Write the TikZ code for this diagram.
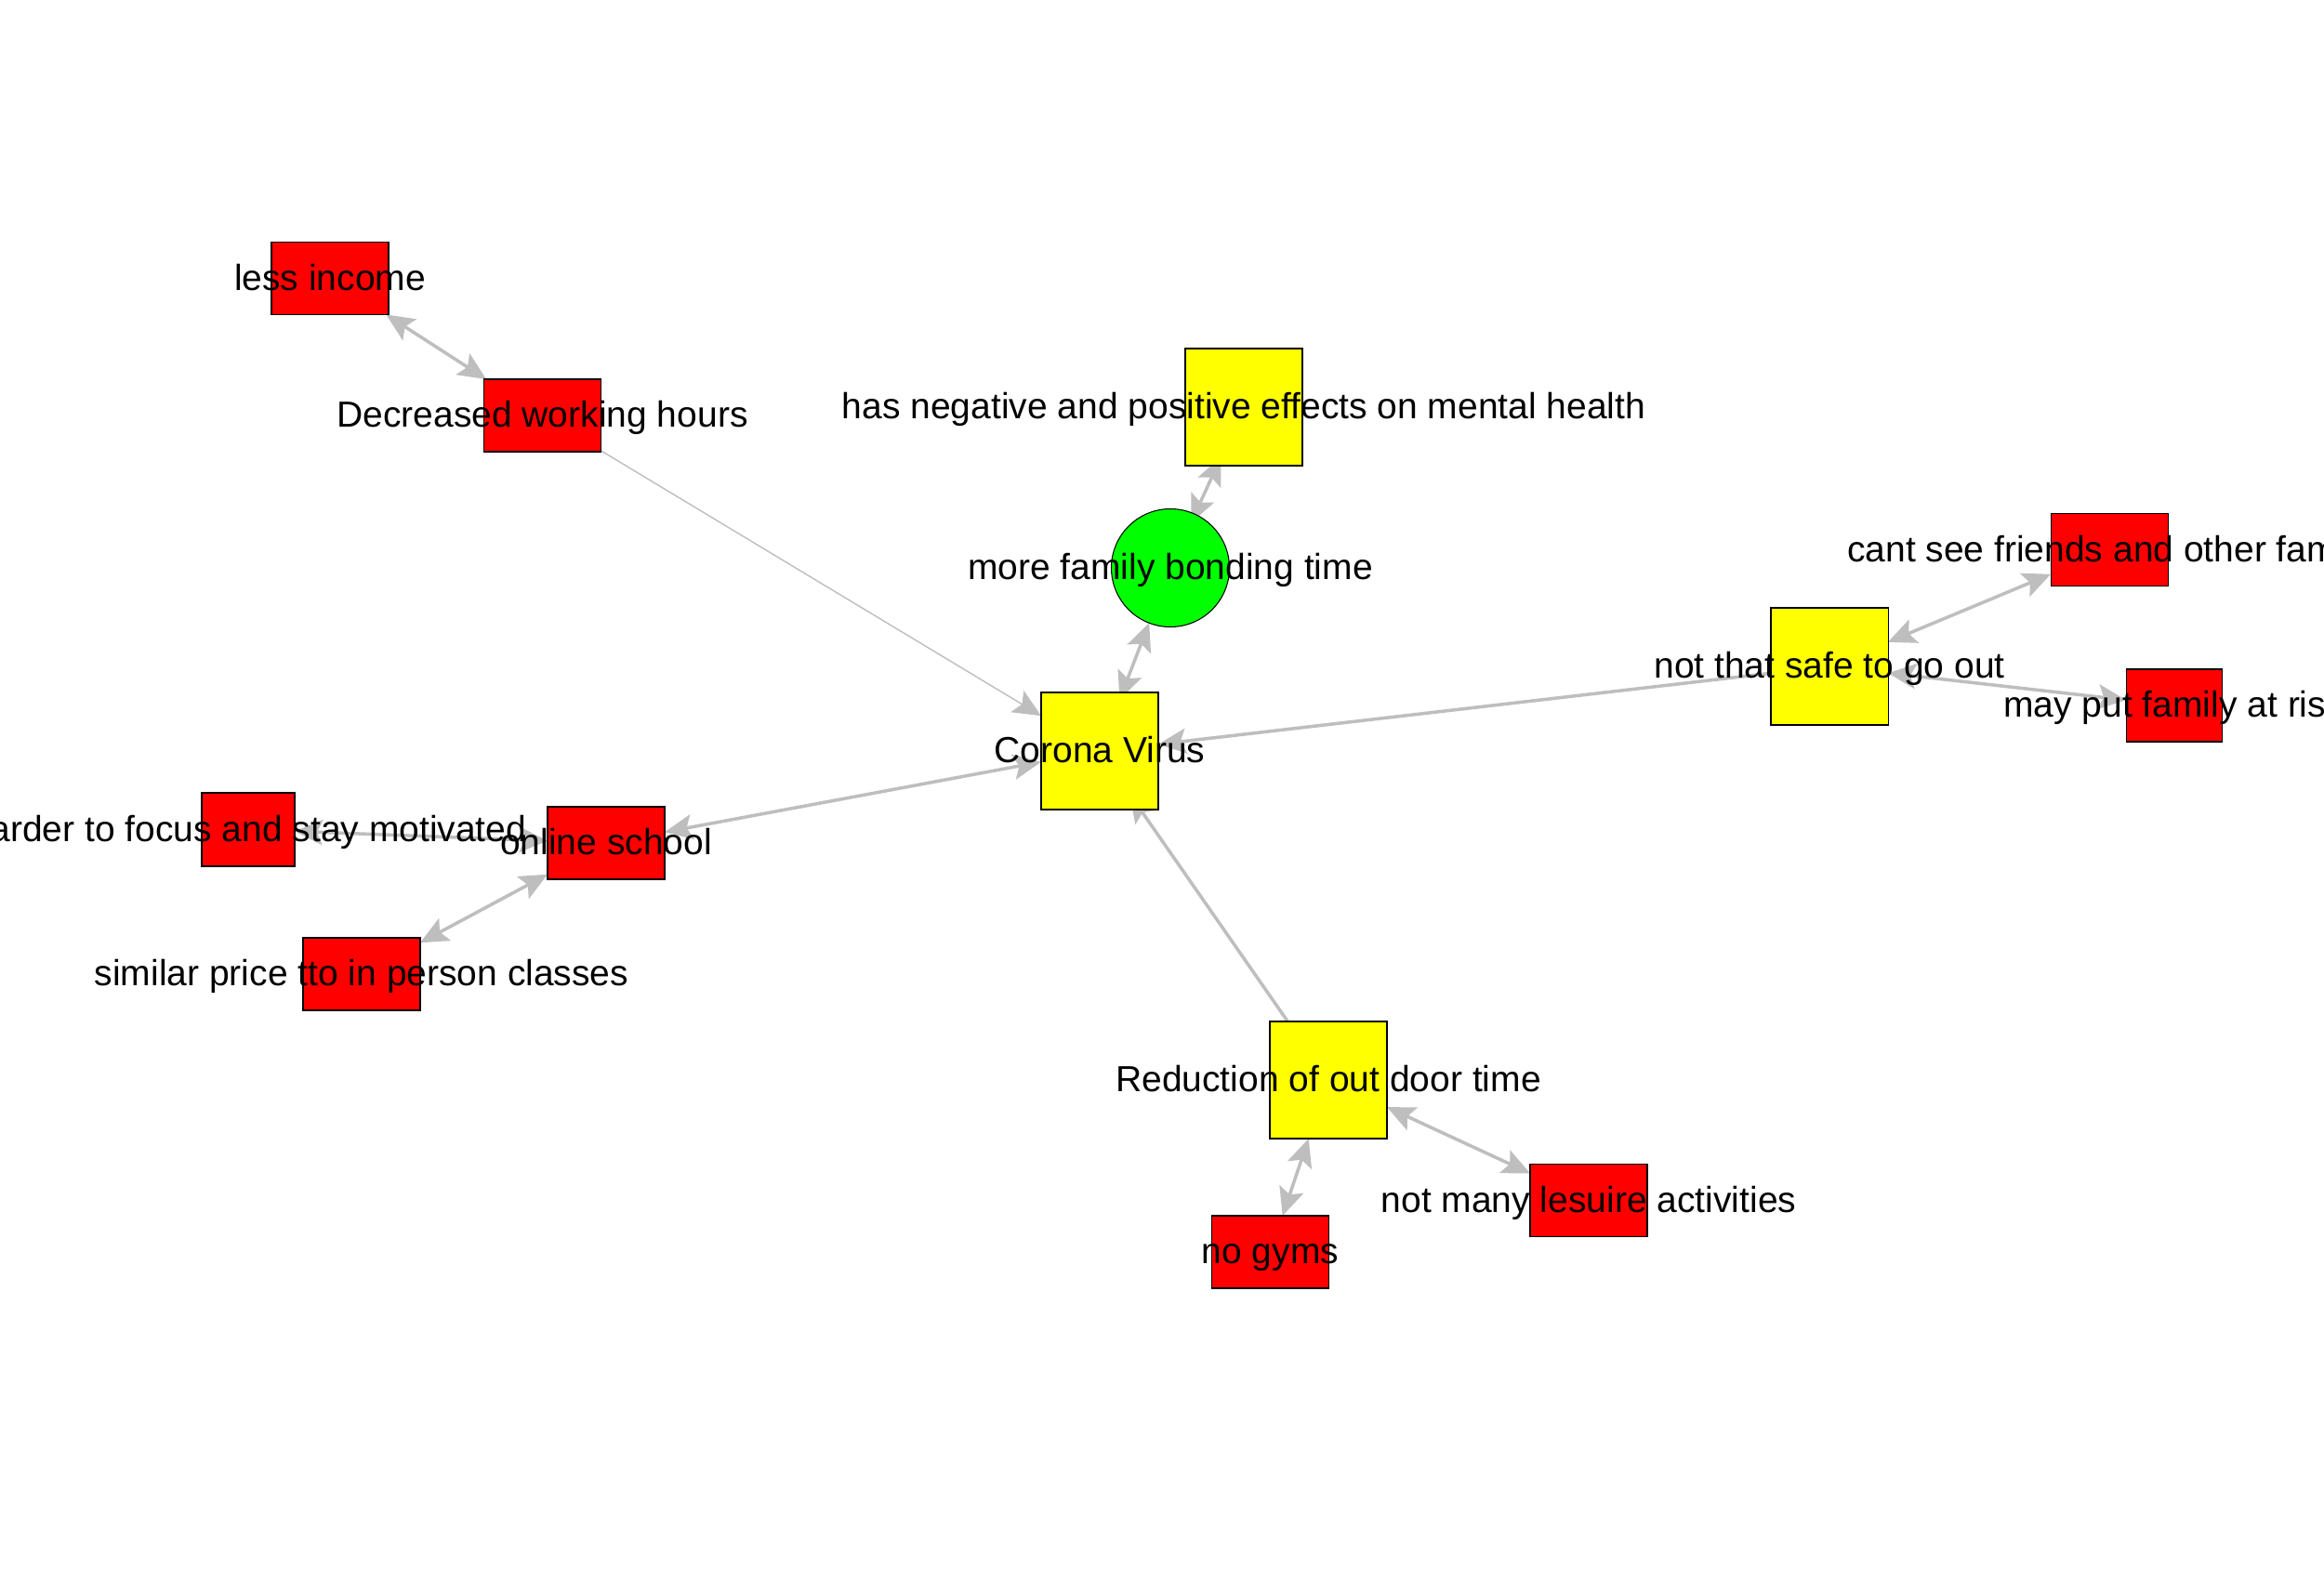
\documentclass[tikz,border=0pt]{standalone}
\usepackage{fontspec}
\setmainfont{Liberation Sans}
\usetikzlibrary{arrows.meta,backgrounds}
\definecolor{edgegray}{RGB}{190,190,190}
\definecolor{boxred}{RGB}{255,0,0}
\definecolor{boxyellow}{RGB}{255,255,0}
\definecolor{boxgreen}{RGB}{0,255,0}
\tikzset{
  box/.style={draw=black, line width=0.3pt, inner sep=0pt, outer sep=0pt},
  redbox/.style={box, fill=boxred, minimum width=1.26cm, minimum height=0.78cm},
  yelbox/.style={box, fill=boxyellow, minimum width=1.26cm, minimum height=1.26cm},
  grncirc/.style={box, circle, fill=boxgreen, minimum size=1.27cm},
  lbl/.style={font=\fontsize{11.1}{13}\selectfont, text height=0.716em, text depth=0pt, inner sep=0pt},
  conn/.style={draw=edgegray, line width=1pt},
  thinconn/.style={draw=edgegray, line width=0.4pt},
  tip/.tip={Stealth[length=0.3cm,width=0.27cm,inset=0.06cm]},
  onearr/.style={-tip},
  twoarr/.style={tip-tip},
}
\begin{document}
\begin{tikzpicture}
\useasboundingbox (0,0) rectangle (25,-17);
\clip (0,0) rectangle (25,-17);

\node[redbox, label={[lbl]center:less income}] (less) at (3.55,-2.995) {};
\node[redbox, label={[lbl]center:Decreased working hours}] (dec) at (5.835,-4.47) {};
\node[yelbox, label={[lbl]center:has negative and positive effects on mental health}] (neg) at (13.38,-4.38) {};
\node[grncirc, label={[lbl]center:more family bonding time}] (fam) at (12.59,-6.11) {};
\node[yelbox, label={[lbl]center:Corona Virus}] (cor) at (11.83,-8.08) {};
\node[yelbox, label={[lbl]center:not that safe to go out}] (safe) at (19.68,-7.17) {};
\node[redbox, label={[lbl]center:cant see friends and other family}] (cant) at (22.69,-5.915) {};
\node[redbox, minimum width=1.03cm, label={[lbl]center:may put family at risk}] (risk) at (23.385,-7.59) {};
\node[redbox, minimum width=1.0cm, minimum height=0.79cm, label={[lbl]center:harder to focus and stay motivated}] (focus) at (2.67,-8.925) {};
\node[redbox, label={[lbl]center:online school}] (online) at (6.52,-9.07) {};
\node[redbox, label={[lbl]center:similar price tto in person classes}] (price) at (3.89,-10.48) {};
\node[yelbox, label={[lbl]center:Reduction of out door time}] (redu) at (14.29,-11.62) {};
\node[redbox, label={[lbl]center:not many lesuire activities}] (leis) at (17.09,-12.915) {};
\node[redbox, label={[lbl]center:no gyms}] (gyms) at (13.665,-13.47) {};

\begin{scope}[on background layer]
\fill[white] (0,0) rectangle (25,-17);
\draw[conn, twoarr] (less) -- (dec);
\draw[thinconn, onearr] (dec) -- (cor);
\draw[conn, twoarr, shorten <=-0.1cm, shorten >=-0.1cm] (neg) -- (fam);
\draw[conn, twoarr, shorten >=-0.08cm] (fam) -- (cor);
\draw[conn, onearr] (safe) -- (cor);
\draw[conn, twoarr] (safe) -- (cant);
\draw[conn, twoarr] (safe) -- (risk);
\draw[conn, twoarr] (online) -- (cor);
\draw[conn, twoarr] (online) -- (focus);
\draw[conn, twoarr] (online) -- (price);
\draw[conn, onearr, shorten >=-0.2cm] (redu) -- (cor);
\draw[conn, twoarr] (redu) -- (gyms);
\draw[conn, twoarr] (redu) -- (leis);
\end{scope}
\end{tikzpicture}
\end{document}
